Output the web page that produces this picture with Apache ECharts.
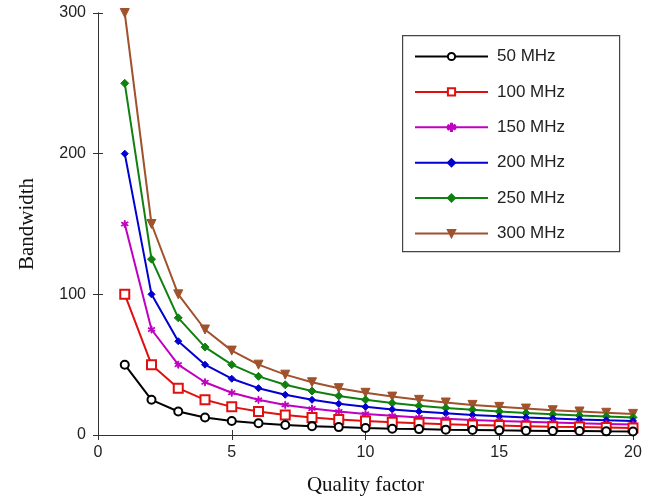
<!DOCTYPE html>
<html>
<head>
<meta charset="utf-8">
<script src="https://cdn.jsdelivr.net/npm/echarts@6/dist/echarts.min.js"></script>
<style>
html, body { margin: 0; padding: 0; background: #fff; }
#chart { width: 659px; height: 501px; }
</style>
</head>
<body>
<div id="chart"></div>
<script>
// quality factor Q
var qualityFactor = [1, 2, 3, 4, 5, 6, 7, 8, 9, 10, 11, 12, 13, 14, 15, 16, 17, 18, 19, 20];
var seriesNames = ['50 MHz', '100 MHz', '150 MHz', '200 MHz', '250 MHz', '300 MHz'];
// bandwidth
var bw50 = [50, 25, 16.7, 12.5, 10, 8.3, 7.1, 6.3, 5.6, 5, 4.5, 4.2, 3.8, 3.6, 3.3, 3.1, 2.9, 2.8, 2.6, 2.5];
var bw100 = [100, 50, 33.3, 25, 20, 16.7, 14.3, 12.5, 11.1, 10, 9.1, 8.3, 7.7, 7.1, 6.7, 6.3, 5.9, 5.6, 5.3, 5];
var bw150 = [150, 75, 50, 37.5, 30, 25, 21.4, 18.8, 16.7, 15, 13.6, 12.5, 11.5, 10.7, 10, 9.4, 8.8, 8.3, 7.9, 7.5];
var bw200 = [200, 100, 66.7, 50, 40, 33.3, 28.6, 25, 22.2, 20, 18.2, 16.7, 15.4, 14.3, 13.3, 12.5, 11.8, 11.1, 10.5, 10];
var bw250 = [250, 125, 83.3, 62.5, 50, 41.7, 35.7, 31.3, 27.8, 25, 22.7, 20.8, 19.2, 17.9, 16.7, 15.6, 14.7, 13.9, 13.2, 12.5];
var bw300 = [300, 150, 100, 75, 60, 50, 42.9, 37.5, 33.3, 30, 27.3, 25, 23.1, 21.4, 20, 18.8, 17.6, 16.7, 15.8, 15];

var colors = ['#000000', '#e01010', '#c000c0', '#0000d0', '#108010', '#a0522d'];
var asterisk = 'path://M4.4,0h1.2v3.8l3.3-1.9.6,1-3.3,1.9 3.3,1.9-.6,1-3.3-1.9V10H4.4V6.2L1.1,8.1.5,7.1 3.8,5.2 .5,3.3 1.1,2.3 4.4,4.2z';
var symbols = ['emptyCircle', 'emptyRect', asterisk, 'diamond', 'diamond', 'triangle'];
var symbolSizes = [8, 9, 7, 7, 8, 9];
var allData = [bw50, bw100, bw150, bw200, bw250, bw300];

function pairs(arr) {
    return arr.map(function (v, i) { return [qualityFactor[i], v]; });
}

var chart = echarts.init(document.getElementById('chart'));

var axisLine = { show: true, lineStyle: { color: '#333', width: 1 } };
var tickFont = { color: '#222', fontSize: 16, fontFamily: 'Liberation Sans, Arial, sans-serif' };
var innerTick = { show: true, inside: true, length: 5, lineStyle: { color: '#333' } };

var series = seriesNames.map(function (name, i) {
    return {
        name: name,
        type: 'line',
        data: pairs(allData[i]),
        symbol: symbols[i],
        symbolSize: symbolSizes[i],
        symbolRotate: i === 5 ? 180 : 0,
        color: colors[i],
        lineStyle: { width: 2, color: colors[i] },
        itemStyle: { color: colors[i], borderColor: colors[i], borderWidth: i < 2 ? 2 : 1 },
        emphasis: { disabled: true },
        animation: false,
        z: 10 - i
    };
});

var option = {
    backgroundColor: '#fff',
    animation: false,
    grid: { left: 98, right: 26, top: 13, bottom: 66 },
    // legend frame
    graphic: [{
        type: 'rect',
        left: 402,
        top: 35,
        shape: { width: 217, height: 216 },
        style: { fill: '#fff', stroke: '#444', lineWidth: 1.2 },
        z: 50
    }],
    legend: {
        orient: 'vertical',
        left: 414,
        top: 48,
        padding: 0,
        itemWidth: 73,
        itemHeight: 9,
        itemGap: 18.4,
        z: 60,
        data: seriesNames,
        textStyle: { fontSize: 17, color: '#222', fontFamily: 'Liberation Sans, Arial, sans-serif', padding: [0, 0, 0, 4] }
    },
    xAxis: [{
        type: 'value',
        min: 0,
        max: 20,
        interval: 5,
        name: 'Quality factor',
        nameLocation: 'middle',
        nameGap: 40,
        nameTextStyle: { fontSize: 21, color: '#111', fontFamily: 'Liberation Serif, Times New Roman, serif' },
        axisLine: axisLine,
        axisTick: innerTick,
        axisLabel: Object.assign({ margin: 10 }, tickFont),
        splitLine: { show: false }
    }, {
        type: 'value',
        position: 'top',
        min: 0,
        max: 20,
        interval: 5,
        axisLine: axisLine,
        axisTick: innerTick,
        axisLabel: { show: false },
        splitLine: { show: false }
    }],
    yAxis: [{
        type: 'value',
        min: 0,
        max: 300,
        interval: 100,
        name: 'Bandwidth',
        nameLocation: 'middle',
        nameGap: 60,
        nameTextStyle: { fontSize: 21, color: '#111', fontFamily: 'Liberation Serif, Times New Roman, serif' },
        axisLine: axisLine,
        axisTick: innerTick,
        axisLabel: Object.assign({ margin: 12 }, tickFont),
        splitLine: { show: false }
    }, {
        type: 'value',
        position: 'right',
        min: 0,
        max: 300,
        interval: 100,
        axisLine: axisLine,
        axisTick: innerTick,
        axisLabel: { show: false },
        splitLine: { show: false }
    }],
    series: series
};

chart.setOption(option);

window.onresize = function () {
    chart.resize();
};
</script>
</body>
</html>
